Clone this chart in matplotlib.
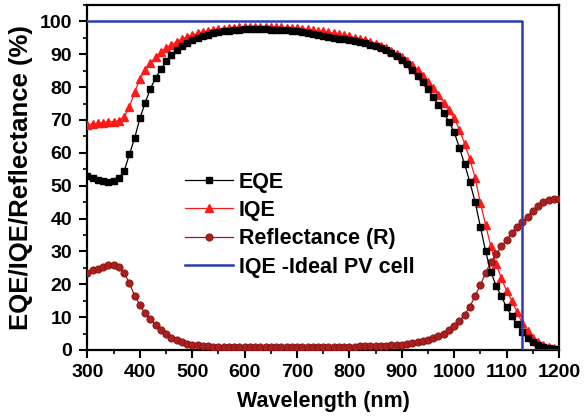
import numpy as np
import matplotlib
matplotlib.use("Agg")
import matplotlib.pyplot as plt
from matplotlib.ticker import MultipleLocator

plt.rcParams['font.family'] = ['Liberation Sans', 'DejaVu Sans']

wavelength = list(range(300, 1201, 10))

eqe = [53.0, 52.3, 51.8, 51.3, 51.1, 51.4, 52.3, 54.5, 59.5, 64.5,
       70.5, 75.2, 79.5, 82.8, 85.4, 87.9, 89.9, 91.4, 92.5, 93.4,
       94.2, 94.9, 95.5, 96.0, 96.4, 96.7, 97.0, 97.2, 97.4, 97.5,
       97.6, 97.6, 97.6, 97.6, 97.6, 97.5, 97.5, 97.4, 97.3, 97.2,
       97.0, 96.8, 96.6, 96.3, 96.0, 95.7, 95.4, 95.1, 94.8, 94.5,
       94.2, 93.9, 93.6, 93.3, 92.9, 92.5, 92.0, 91.3, 90.5, 89.5,
       88.3, 86.9, 85.3, 83.5, 81.5, 79.3, 77.0, 74.6, 72.2, 69.5,
       66.3, 61.5, 56.5, 51.0, 45.0, 37.5, 30.0, 23.8, 19.5, 16.3,
       13.0, 10.2, 7.8, 5.6, 3.8, 2.5, 1.6, 1.0, 0.6, 0.3, 0.2]

iqe = [68.6, 68.8, 69.0, 69.2, 69.4, 69.5, 69.8, 71.0, 74.0, 78.5,
       82.5, 85.2, 87.3, 89.1, 90.6, 91.9, 92.9, 93.8, 94.6, 95.3,
       95.9, 96.4, 96.8, 97.1, 97.4, 97.6, 97.8, 98.0, 98.1, 98.2,
       98.3, 98.3, 98.3, 98.3, 98.3, 98.3, 98.3, 98.2, 98.1, 98.0,
       97.9, 97.8, 97.6, 97.4, 97.2, 97.0, 96.7, 96.4, 96.1, 95.8,
       95.5, 95.1, 94.7, 94.3, 93.8, 93.2, 92.6, 91.9, 91.1, 90.2,
       89.2, 88.0, 86.6, 85.1, 83.4, 81.6, 79.7, 77.6, 75.3, 73.0,
       70.5, 67.0, 62.8, 58.0, 52.3, 44.8, 38.0, 31.5, 26.3, 21.8,
       18.0, 15.0, 11.5, 8.2, 5.8, 3.8, 2.5, 1.6, 1.0, 0.6, 0.4]

reflectance = [23.5, 24.2, 24.8, 25.4, 25.8, 26.0, 25.3, 23.5, 20.3, 16.5,
               13.7, 11.2, 9.4, 7.5, 6.0, 4.8, 3.8, 3.0, 2.4, 1.9,
               1.6, 1.4, 1.2, 1.1, 1.0, 0.9, 0.9, 0.9, 0.9, 0.9,
               0.9, 0.9, 0.9, 0.9, 0.9, 0.9, 0.9, 0.9, 0.9, 0.9,
               0.9, 0.9, 0.9, 0.9, 0.9, 0.9, 1.0, 1.0, 1.0, 1.0,
               1.0, 1.0, 1.1, 1.1, 1.1, 1.1, 1.2, 1.3, 1.4, 1.5,
               1.6, 1.8, 2.0, 2.3, 2.7, 3.1, 3.7, 4.3, 5.0, 6.0,
               7.2, 8.8, 10.8, 13.2, 16.5, 19.8, 23.5, 26.8, 29.1, 31.5,
               33.5, 35.5, 37.3, 39.0, 40.6, 42.3, 43.8, 45.0, 45.6, 45.9, 45.9]

ideal_cutoff = 1130
ideal = [100.0 if w < ideal_cutoff else 0.0 for w in wavelength]

labels = ["EQE", "IQE", "Reflectance (R)", "IQE -Ideal PV cell"]

fig = plt.figure(figsize=(5.86, 4.19), dpi=100)
ax = fig.add_axes([0.1493, 0.1647, 0.8046, 0.8234])

ax.plot(wavelength, eqe, color='black', lw=0.9, marker='s', ms=4.4,
        mfc='black', mec='black', label=labels[0], zorder=4)
ax.plot(wavelength, iqe, color='#ff1a1a', lw=0.9, marker='^', ms=6.0,
        mfc='#ff1a1a', mec='#ff1a1a', label=labels[1], zorder=3)
ax.plot(wavelength, reflectance, color='#a01515', lw=0.9, marker='o', ms=5.2,
        mfc='#a82020', mec='#8a1010', mew=0.6, label=labels[2], zorder=3)
ax.plot(wavelength, ideal, color='#2b3cb0', lw=1.8, drawstyle='steps-post',
        label=labels[3], zorder=5)

ax.set_xlim(300, 1200)
ax.set_ylim(0, 105)
ax.xaxis.set_major_locator(MultipleLocator(100))
ax.xaxis.set_minor_locator(MultipleLocator(50))
ax.yaxis.set_minor_locator(MultipleLocator(5))
ax.set_yticks(range(0, 101, 10))

for s in ax.spines.values():
    s.set_linewidth(1.6)
ax.tick_params(which='major', direction='out', length=5.5, width=1.5,
               labelsize=14)
ax.tick_params(axis='x', which='major', pad=4.5)
ax.tick_params(axis='y', which='major', pad=5.5)
ax.tick_params(which='minor', direction='out', length=3, width=1.2)
for t in ax.get_xticklabels() + ax.get_yticklabels():
    t.set_fontweight('bold')

ax.set_xlabel("Wavelength (nm)", fontsize=15.5, fontweight='bold', labelpad=7)
ax.set_ylabel("EQE/IQE/Reflectance (%)", fontsize=18.5, fontweight='bold', labelpad=5)

leg = ax.legend(loc='upper left', bbox_to_anchor=(0.2076, 0.517), frameon=False,
                prop={'size': 15.5, 'weight': 'bold'}, handlelength=2.2,
                handletextpad=0.28, labelspacing=0.34, borderpad=0,
                borderaxespad=0)

fig.savefig("out.png", dpi=100)
